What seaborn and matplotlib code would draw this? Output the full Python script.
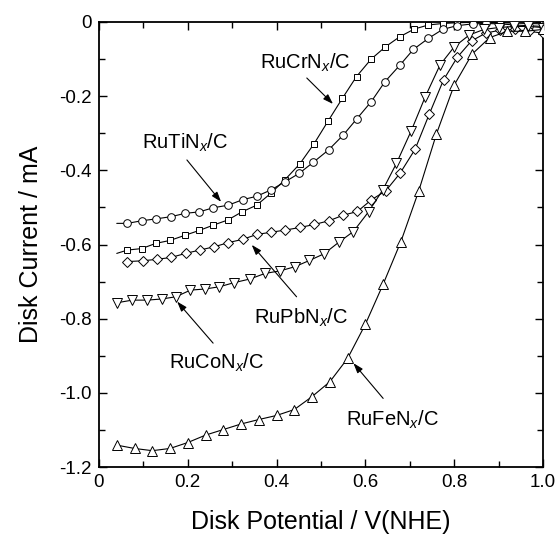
import numpy as np
import pandas as pd
import matplotlib
matplotlib.use("Agg")
import matplotlib.pyplot as plt
import seaborn as sns

# ---- data ----
cr_x = [0.040, 0.064, 0.096, 0.128, 0.160, 0.194, 0.226, 0.257, 0.290, 0.322, 0.355,
        0.387, 0.419, 0.452, 0.484, 0.516, 0.548, 0.580, 0.613, 0.645, 0.677, 0.710,
        0.742, 0.774, 0.806, 0.839, 0.871, 0.903, 0.935, 0.968, 1.000]
cr_y = [-0.624, -0.615, -0.611, -0.597, -0.589, -0.575, -0.562, -0.548, -0.534, -0.512, -0.494,
        -0.462, -0.425, -0.383, -0.329, -0.267, -0.206, -0.147, -0.100, -0.067, -0.040, -0.019,
        -0.008, -0.004, -0.002, -0.001, -0.001, -0.002, -0.003, -0.004, -0.005]

ti_x = [0.040, 0.064, 0.096, 0.128, 0.162, 0.194, 0.226, 0.257, 0.291, 0.324, 0.355,
        0.387, 0.419, 0.451, 0.483, 0.517, 0.550, 0.580, 0.613, 0.644, 0.678, 0.708,
        0.742, 0.774, 0.806, 0.842, 0.871, 0.903, 0.935, 0.968, 1.000]
ti_y = [-0.543, -0.543, -0.536, -0.531, -0.525, -0.516, -0.512, -0.501, -0.494, -0.479, -0.470,
        -0.453, -0.431, -0.408, -0.378, -0.345, -0.305, -0.262, -0.215, -0.161, -0.116, -0.074,
        -0.044, -0.020, -0.010, -0.005, -0.004, -0.005, -0.008, -0.010, -0.012]

pb_x = [0.064, 0.098, 0.130, 0.162, 0.195, 0.227, 0.260, 0.291, 0.324, 0.355, 0.387,
        0.420, 0.453, 0.485, 0.518, 0.550, 0.582, 0.613, 0.646, 0.678, 0.712, 0.744,
        0.776, 0.807, 0.839, 0.871, 0.903, 0.936, 0.968, 1.000]
pb_y = [-0.646, -0.644, -0.640, -0.635, -0.624, -0.615, -0.606, -0.595, -0.586, -0.573, -0.567,
        -0.561, -0.554, -0.546, -0.536, -0.521, -0.511, -0.480, -0.455, -0.408, -0.343, -0.248,
        -0.156, -0.095, -0.051, -0.030, -0.022, -0.020, -0.025, -0.030]

co_x = [0.041, 0.075, 0.108, 0.141, 0.173, 0.206, 0.239, 0.271, 0.304, 0.340, 0.374,
        0.408, 0.441, 0.474, 0.507, 0.540, 0.573, 0.607, 0.639, 0.670, 0.703, 0.735,
        0.768, 0.800, 0.834, 0.867, 0.900, 0.934, 0.967, 1.000]
co_y = [-0.757, -0.750, -0.750, -0.747, -0.741, -0.723, -0.720, -0.714, -0.703, -0.693, -0.678,
        -0.671, -0.660, -0.643, -0.625, -0.594, -0.565, -0.512, -0.453, -0.381, -0.294, -0.201,
        -0.116, -0.067, -0.035, -0.020, -0.015, -0.012, -0.012, -0.015]

fe_x = [0.04, 0.08, 0.12, 0.16, 0.20, 0.24, 0.28, 0.32, 0.36, 0.40, 0.44, 0.48, 0.52,
        0.56, 0.60, 0.64, 0.68, 0.72, 0.76, 0.80, 0.84, 0.88, 0.92, 0.96, 1.00]
fe_y = [-1.141, -1.150, -1.156, -1.150, -1.134, -1.114, -1.099, -1.084, -1.072, -1.061, -1.045,
        -1.010, -0.970, -0.907, -0.815, -0.707, -0.592, -0.456, -0.302, -0.170, -0.087, -0.042,
        -0.025, -0.025, -0.020]

labels = ["RuCrN$_x$/C", "RuTiN$_x$/C", "RuPbN$_x$/C", "RuCoN$_x$/C", "RuFeN$_x$/C"]
label_pos = [(0.464, -0.125), (0.194, -0.343), (0.455, -0.814), (0.265, -0.934), (0.661, -1.089)]
arrow_tail = [(0.468, -0.151), (0.198, -0.372), (0.445, -0.741), (0.257, -0.866), (0.640, -1.015)]
arrow_tip = [(0.527, -0.221), (0.275, -0.485), (0.344, -0.601), (0.176, -0.754), (0.573, -0.920)]

xticks = [0, 0.2, 0.4, 0.6, 0.8, 1.0]
xticklabels = ["0", "0.2", "0.4", "0.6", "0.8", "1.0"]
yticks = [0, -0.2, -0.4, -0.6, -0.8, -1.0, -1.2]
yticklabels = ["0", "-0.2", "-0.4", "-0.6", "-0.8", "-1.0", "-1.2"]

# ---- style ----
sns.set_theme(style="white")
plt.rcParams["font.family"] = ["Liberation Sans", "DejaVu Sans"]
plt.rcParams["mathtext.fontset"] = "custom"
plt.rcParams["mathtext.rm"] = "Liberation Sans"
plt.rcParams["mathtext.it"] = "Liberation Sans:italic"

fig = plt.figure(figsize=(5.57, 5.35), dpi=100)
ax = fig.add_axes([99 / 557, 1 - 467 / 535, 444 / 557, 445 / 535])

series = [
    (cr_x, cr_y, "s", 4.3, slice(1, None)),
    (ti_x, ti_y, "o", 5.5, slice(1, None)),
    (pb_x, pb_y, "D", 5.6, None),
    (co_x, co_y, "v", 6.8, None),
    (fe_x, fe_y, "^", 7.0, None),
]
for xs, ys, mk, ms, me in series:
    df = pd.DataFrame({"V": xs, "I": ys})
    sns.lineplot(data=df, x="V", y="I", ax=ax, color="black", linewidth=0.8,
                 marker=mk, markersize=ms, markerfacecolor="white",
                 markeredgecolor="black", markeredgewidth=0.7,
                 markevery=me, sort=False, estimator=None, zorder=3)

for lab, (tx, ty), tail, tip in zip(labels, label_pos, arrow_tail, arrow_tip):
    ax.text(tx, ty, lab, ha="center", va="baseline", fontsize=14.5, color="black")
    ax.annotate("", xy=tip, xytext=tail,
                arrowprops=dict(arrowstyle="-|>,head_length=0.5,head_width=0.17",
                                color="black", lw=0.8, shrinkA=0, shrinkB=0))

ax.set_xlim(0, 1.0)
ax.set_ylim(-1.2, 0)
ax.set_xticks(xticks)
ax.set_xticklabels(xticklabels)
ax.set_yticks(yticks)
ax.set_yticklabels(yticklabels)
ax.set_xticks([0.1, 0.3, 0.5, 0.7, 0.9], minor=True)
ax.set_yticks([-0.1, -0.3, -0.5, -0.7, -0.9, -1.1], minor=True)
ax.tick_params(which="both", direction="in", top=True, right=True, bottom=True, left=True,
               width=1.0, color="black", labelsize=13.5, labelcolor="black")
ax.tick_params(which="major", length=6, pad=5)
ax.tick_params(which="minor", length=4)
for s in ax.spines.values():
    s.set_linewidth(1.3)
    s.set_color("black")
ax.set_xlabel("Disk Potential / V(NHE)", fontsize=18, labelpad=14, color="black")
ax.set_ylabel("Disk Current / mA", fontsize=18, labelpad=12, color="black")
ax.grid(False)

fig.savefig("out.png", dpi=100)
